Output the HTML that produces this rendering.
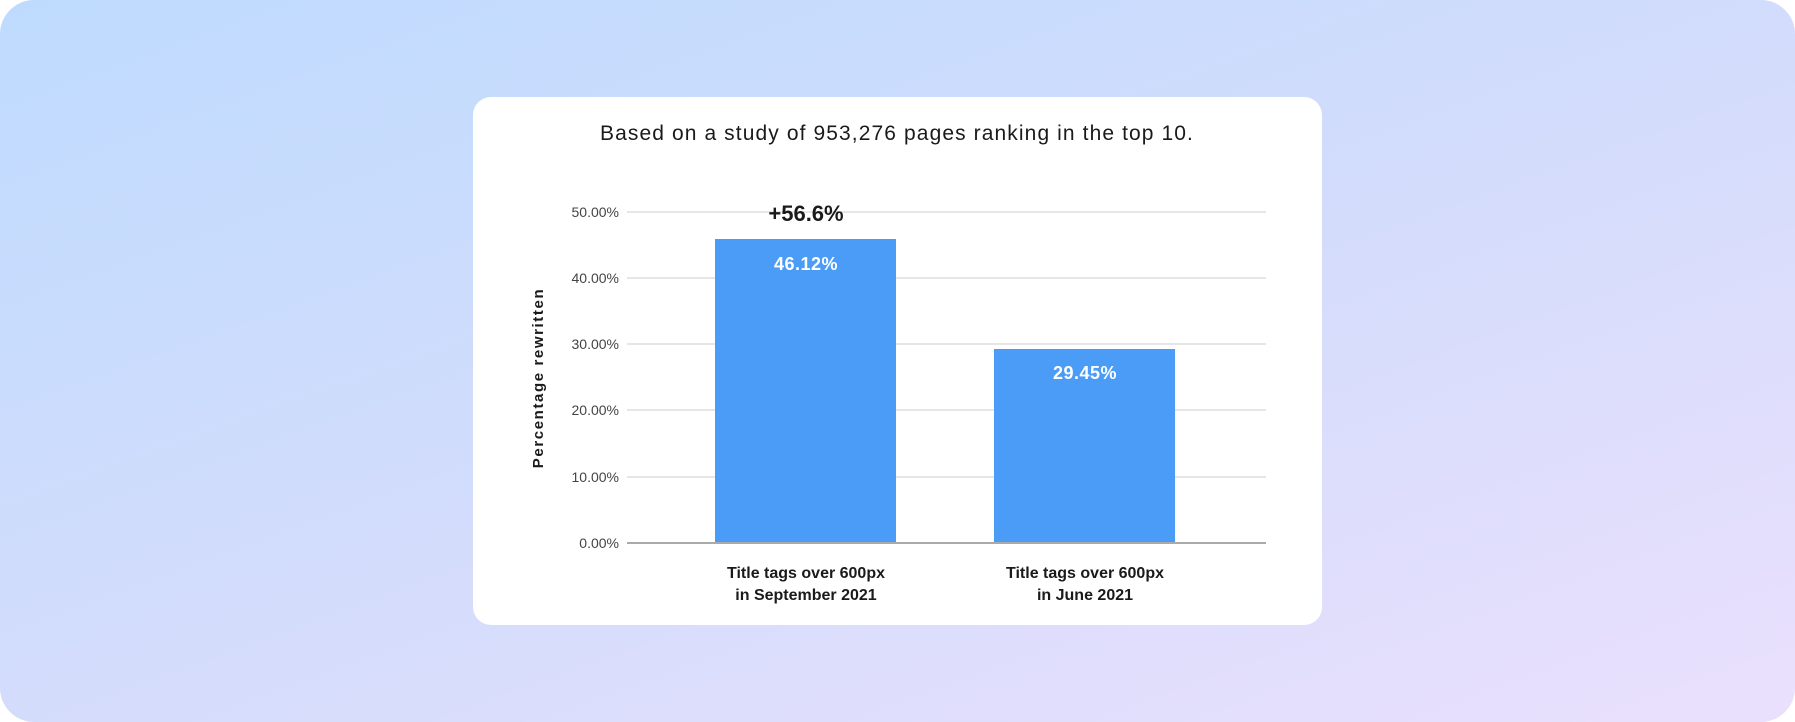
<!DOCTYPE html>
<html><head><style>
html,body{margin:0;padding:0;background:#fff;}
.bg{position:absolute;left:0;top:0;width:1795px;height:722px;border-radius:34px;background:linear-gradient(160deg,#bedbfe 0%,#d3dcfc 50%,#eae0fd 100%);overflow:hidden;}
.card{position:absolute;left:473px;top:97px;width:849px;height:528px;background:#fff;border-radius:18px;}
text{font-family:"Liberation Sans",sans-serif;}
</style></head><body>
<div class="bg"></div>
<div class="card"></div>
<svg width="1795" height="722" style="position:absolute;left:0;top:0">
<text x="897" y="140" text-anchor="middle" font-size="21" letter-spacing="1.1" fill="#1a1a1a">Based on a study of 953,276 pages ranking in the top 10.</text>
<g stroke="#e6e6e6" stroke-width="2">
<line x1="627" x2="1266" y1="212" y2="212"/>
<line x1="627" x2="1266" y1="278" y2="278"/>
<line x1="627" x2="1266" y1="344" y2="344"/>
<line x1="627" x2="1266" y1="410" y2="410"/>
<line x1="627" x2="1266" y1="477" y2="477"/>
</g>
<g font-size="14" fill="#444" text-anchor="end">
<text x="619" y="217">50.00%</text>
<text x="619" y="283">40.00%</text>
<text x="619" y="349">30.00%</text>
<text x="619" y="415">20.00%</text>
<text x="619" y="482">10.00%</text>
<text x="619" y="548">0.00%</text>
</g>
<rect x="715" y="239" width="181" height="304" fill="#4b9cf6"/>
<rect x="994" y="349" width="181" height="194" fill="#4b9cf6"/>
<line x1="627" x2="1266" y1="543" y2="543" stroke="#aaa" stroke-width="2"/>
<text x="806" y="221" text-anchor="middle" font-size="22" font-weight="bold" fill="#1a1a1a">+56.6%</text>
<text x="806" y="270" text-anchor="middle" font-size="18" font-weight="bold" letter-spacing="0.5" fill="#fff">46.12%</text>
<text x="1085" y="379" text-anchor="middle" font-size="18" font-weight="bold" letter-spacing="0.5" fill="#fff">29.45%</text>
<g font-size="16" font-weight="bold" fill="#1a1a1a" text-anchor="middle">
<text x="806" y="578">Title tags over 600px</text>
<text x="806" y="600">in September 2021</text>
<text x="1085" y="578">Title tags over 600px</text>
<text x="1085" y="600">in June 2021</text>
</g>
<text transform="translate(543,378) rotate(-90)" text-anchor="middle" font-size="15" font-weight="bold" letter-spacing="1.6" fill="#1a1a1a">Percentage rewritten</text>
</svg>
</body></html>
